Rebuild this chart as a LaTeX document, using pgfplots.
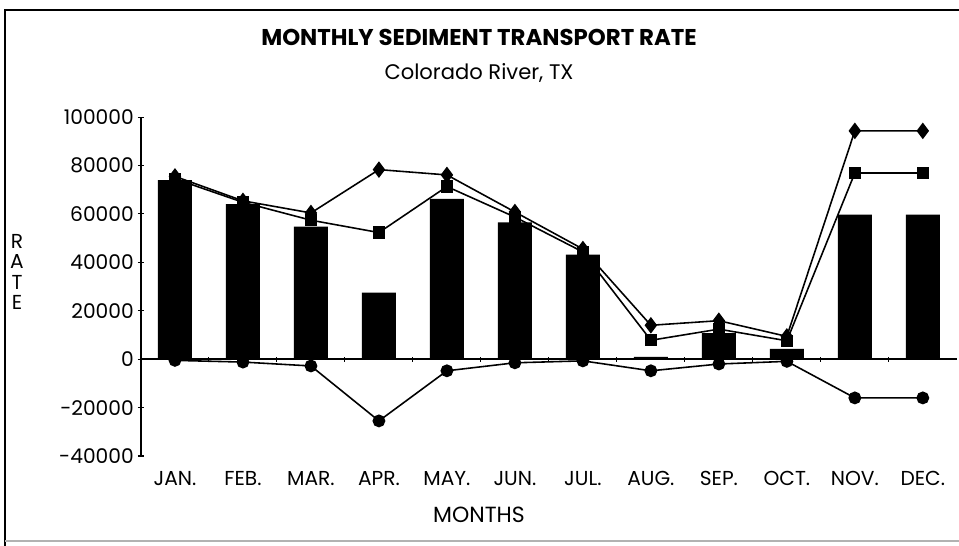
\documentclass[border=0pt]{standalone}
\usepackage{fontspec}
\setmainfont{Poppins}
\usepackage{pgfplots}
\usepackage{pgfplotstable}
\pgfplotsset{compat=1.18}

% monthly values
\pgfplotstableread{
idx bar   diam  sq    circ
0   74000 75500 74500 -500
1   64000 65400 64800 -1200
2   54800 60400 57400 -2800
3   27500 78300 52300 -25500
4   66200 76100 71300 -4800
5   56500 60800 58700 -1500
6   43200 45500 44300 -700
7   1000  14000 7800  -4800
8   10800 15900 12400 -2000
9   4300  9400  7600  -900
10  59700 94300 76900 -16000
11  59700 94300 76900 -16000
}\sedtable

\begin{document}
\begin{tikzpicture}[x=0.02cm,y=0.02cm]
\path[use as bounding box] (0,0) rectangle (959,546);
% page frame
\draw[line width=1.2pt] (5,0) -- (5,536) -- (959,536);
\draw[black!30,line width=0.8pt] (5,5) -- (959,5);

\node[font=\bfseries\fontsize{13}{15}\selectfont] at (479,509) {MONTHLY SEDIMENT TRANSPORT RATE};
\node[font=\fontsize{12}{14}\selectfont] at (479,473) {Colorado River, TX};
\node[font=\fontsize{12.5}{14}\selectfont] at (479,31) {MONTHS};
\node[font=\fontsize{11.5}{13}\selectfont,align=center,inner sep=0pt] at (17,274) {R\\[-1.5pt]A\\[-1.5pt]T\\[-1.5pt]E};

\begin{axis}[
  at={(2.82cm,1.8cm)}, anchor=south west,
  scale only axis, width=16.32cm, height=6.78cm,
  xmin=-0.5, xmax=11.5, ymin=-40000, ymax=100000,
  axis y line*=left, axis x line*=bottom,
  x axis line style={draw=none},
  xtick={0,...,11},
  xticklabels={JAN.,FEB.,MAR.,APR.,MAY.,JUN.,JUL.,AUG.,SEP.,OCT.,NOV.,DEC.},
  xtick style={draw=none},
  scaled y ticks=false,
  ytick={-40000,-20000,0,20000,40000,60000,80000,100000},
  yticklabels={-40000,-20000,0,20000,40000,60000,80000,100000},
  tick align=center, major tick length=0.12cm,
  ticklabel style={font=\fontsize{11.5}{13}\selectfont},
  xticklabel style={yshift=-0.12cm},
  yticklabel style={xshift=0.04cm},
  y axis line style={line width=0.9pt},
  every tick/.style={black,line width=0.6pt},
  clip=false,
]
\addplot[ybar, bar width=0.68cm, fill=black, draw=none] table[x=idx,y=bar] {\sedtable};
% zero line with category ticks
\draw[line width=1pt] (axis cs:-0.5,0) -- (axis cs:11.5,0);
\pgfplotsinvokeforeach{0.5,1.5,...,10.5}{
  \draw[line width=0.6pt] (axis cs:#1,-1000) -- (axis cs:#1,1000);
}
\addplot[black, line width=0.9pt, mark=diamond*, mark size=4pt] table[x=idx,y=diam] {\sedtable};
\addplot[black, line width=0.9pt, mark=square*, mark size=3pt] table[x=idx,y=sq] {\sedtable};
\addplot[black, line width=0.9pt, mark=*, mark size=3.2pt] table[x=idx,y=circ] {\sedtable};
\end{axis}
\end{tikzpicture}
\end{document}
